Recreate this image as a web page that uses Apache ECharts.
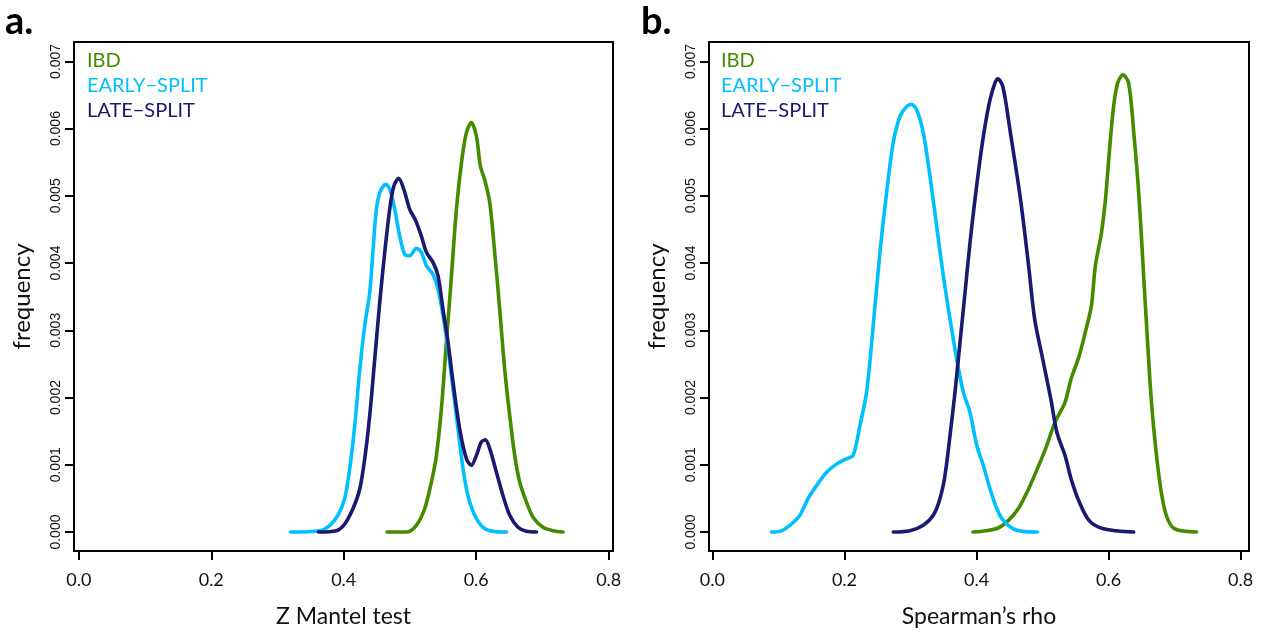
<!DOCTYPE html>
<html>
<head>
<meta charset="utf-8">
<script src="https://cdn.jsdelivr.net/npm/echarts@6/dist/echarts.min.js"></script>
<style>
html,body{margin:0;padding:0;background:#fff;}
#chart{width:1261px;height:633px;}
</style>
</head>
<body>
<div id="chart"></div>
<script>
// ---- data (x value, density) ----
const seriesNames = ['IBD', 'EARLY\u2212SPLIT', 'LATE\u2212SPLIT'];
const seriesColors = ['#458B00', '#00BFFF', '#191970'];

const xTicks = [0, 0.2, 0.4, 0.6, 0.8];
const yTicks = [0, 0.001, 0.002, 0.003, 0.004, 0.005, 0.006, 0.007];

// Panel a: Z Mantel test
const mantelIBD = [[0.4654,0],[0.4946,0],[0.5097,0.0001],[0.5223,0.00035],[0.5323,0.00074],[0.5399,0.00114],[0.5474,0.00183],[0.555,0.00282],[0.5626,0.00381],[0.5701,0.0048],[0.5777,0.00549],[0.5852,0.00594],[0.5927,0.00609],[0.6003,0.00589],[0.6063,0.00544],[0.6128,0.00524],[0.6204,0.0049],[0.6279,0.00416],[0.6355,0.00331],[0.643,0.00242],[0.6506,0.00173],[0.6581,0.00114],[0.6657,0.00074],[0.6757,0.00045],[0.6858,0.00022],[0.7008,0.00007],[0.7159,0.00002],[0.731,0]];
const mantelEarly = [[0.32,0],[0.3638,0.00002],[0.3789,0.0001],[0.3914,0.00025],[0.4015,0.0005],[0.409,0.00094],[0.4166,0.00158],[0.4242,0.00242],[0.4317,0.00307],[0.4392,0.00356],[0.4443,0.0042],[0.4493,0.0048],[0.4553,0.00507],[0.4634,0.00517],[0.4694,0.0051],[0.477,0.0048],[0.4845,0.0044],[0.4921,0.00413],[0.4996,0.00411],[0.5097,0.00422],[0.5172,0.00416],[0.5248,0.00396],[0.5348,0.00383],[0.5424,0.00361],[0.5499,0.00322],[0.5575,0.00272],[0.565,0.00213],[0.5726,0.00153],[0.5801,0.00094],[0.5876,0.00054],[0.5977,0.00025],[0.6103,0.00007],[0.6254,0.00001],[0.6456,0]];
const mantelLate = [[0.362,0],[0.389,0.00002],[0.4015,0.00012],[0.414,0.00035],[0.4242,0.00064],[0.4317,0.00109],[0.4392,0.00173],[0.4468,0.00257],[0.4543,0.00341],[0.4619,0.00416],[0.4694,0.0048],[0.4755,0.00514],[0.483,0.00526],[0.4906,0.0051],[0.4996,0.0048],[0.5087,0.00463],[0.5172,0.0044],[0.5248,0.00416],[0.5348,0.00401],[0.5424,0.00381],[0.5499,0.00331],[0.5575,0.00282],[0.565,0.00223],[0.5751,0.00153],[0.5852,0.00109],[0.5927,0.00099],[0.6003,0.00114],[0.6078,0.00134],[0.6138,0.00137],[0.6204,0.00124],[0.6305,0.00089],[0.6405,0.00054],[0.6506,0.00025],[0.6631,0.00007],[0.6757,0.00001],[0.6909,0]];

// Panel b: Spearman's rho
const rhoIBD = [[0.3947,0],[0.4144,0.00002],[0.4326,0.00006],[0.448,0.00017],[0.4634,0.00035],[0.4788,0.00064],[0.4942,0.00099],[0.5065,0.00129],[0.5187,0.00163],[0.534,0.00193],[0.5433,0.00228],[0.5555,0.00262],[0.5647,0.00297],[0.5739,0.00336],[0.58,0.00396],[0.5892,0.00445],[0.5953,0.00495],[0.6015,0.00569],[0.6076,0.00633],[0.6138,0.00668],[0.6217,0.0068],[0.6303,0.00668],[0.6382,0.00594],[0.6463,0.00495],[0.6537,0.00371],[0.6567,0.00322],[0.6628,0.00223],[0.669,0.00148],[0.6783,0.00069],[0.6874,0.00025],[0.6996,0.00005],[0.7333,0]];
const rhoEarly = [[0.0895,0],[0.102,0.00001],[0.1172,0.0001],[0.1324,0.00025],[0.145,0.0005],[0.1577,0.00069],[0.1729,0.00089],[0.188,0.00101],[0.2032,0.00109],[0.2132,0.00114],[0.2233,0.00158],[0.2335,0.00208],[0.2435,0.00307],[0.2537,0.00416],[0.2638,0.00505],[0.2738,0.00579],[0.284,0.00618],[0.2942,0.00633],[0.3017,0.00636],[0.3093,0.00628],[0.3193,0.00594],[0.3295,0.00529],[0.3396,0.00455],[0.3497,0.00381],[0.3598,0.00317],[0.37,0.00257],[0.38,0.00208],[0.3901,0.00178],[0.4003,0.00129],[0.4103,0.00099],[0.4205,0.00064],[0.4306,0.00035],[0.44,0.00018],[0.455,0.00005],[0.47,0.00001],[0.492,0]];
const rhoLate = [[0.2739,0],[0.2992,0.00002],[0.3193,0.0001],[0.3345,0.00025],[0.3447,0.0005],[0.3522,0.00084],[0.3598,0.00143],[0.3674,0.00208],[0.375,0.00282],[0.3826,0.00356],[0.3901,0.0043],[0.3977,0.00495],[0.4053,0.00554],[0.4129,0.00604],[0.4205,0.00643],[0.428,0.00668],[0.4325,0.00674],[0.44,0.00662],[0.4513,0.00594],[0.4666,0.00495],[0.4789,0.00396],[0.488,0.00317],[0.5003,0.00257],[0.5125,0.00198],[0.5218,0.00148],[0.534,0.00114],[0.5433,0.00079],[0.5555,0.00045],[0.5706,0.00017],[0.5923,0.00005],[0.638,0]];

const panelLetters = ['a.', 'b.'];
const xTitles = ['Z Mantel test', 'Spearman\u2019s rho'];
const yTitle = 'frequency';

// ---- chart ----
const chart = echarts.init(document.getElementById('chart'), null, {renderer: 'canvas'});
const SANS = 'Liberation Sans, Arial, sans-serif';
const MYR = 'Lato, sans-serif';

const grids = [
  {left: 74, top: 42, width: 539, height: 510},
  {left: 709, top: 42, width: 540, height: 510}
];
const xRanges = [[-0.0072, 0.8065], [-0.0052, 0.8127]];

function makeX(i) {
  return {
    type: 'value', gridIndex: i, min: xRanges[i][0], max: xRanges[i][1],
    axisLine: {show: false, onZero: false}, splitLine: {show: false},
    axisTick: {show: true, length: 9, customValues: xTicks, lineStyle: {color: '#000', width: 2}},
    axisLabel: {customValues: xTicks, formatter: v => v.toFixed(1), fontFamily: MYR, fontSize: 18, color: '#111', margin: 20},
    name: xTitles[i], nameLocation: 'middle', nameGap: 54,
    nameTextStyle: {fontFamily: MYR, fontSize: 23, color: '#111'}
  };
}
function makeY(i) {
  return {
    type: 'value', gridIndex: i, min: -0.000282, max: 0.007288,
    axisLine: {show: false, onZero: false}, splitLine: {show: false},
    axisTick: {show: true, length: 9, customValues: yTicks, lineStyle: {color: '#000', width: 2}},
    axisLabel: {customValues: yTicks, formatter: v => v.toFixed(3), rotate: 90, fontFamily: SANS, fontSize: 14, color: '#111', margin: 11},
    name: yTitle, nameLocation: 'middle', nameRotate: 90, nameGap: 40,
    nameTextStyle: {fontFamily: MYR, fontSize: 24, color: '#111'}
  };
}
function line(name, color, data, i) {
  return {
    type: 'line', name: name, xAxisIndex: i, yAxisIndex: i, data: data,
    showSymbol: false, smooth: 0.3,
    lineStyle: {color: color, width: 3.6, cap: 'round', join: 'round'},
    itemStyle: {color: color}, silent: true
  };
}
function legend(i, left) {
  return {
    left: left, top: 46, orient: 'vertical', itemWidth: 0, itemHeight: 0, itemGap: 5,
    selectedMode: false,
    data: seriesNames.map((n, k) => ({name: n, textStyle: {color: seriesColors[k]}})),
    textStyle: {fontFamily: MYR, fontSize: 20, lineHeight: 20}
  };
}

const option = {
  backgroundColor: '#fff',
  animation: false,
  title: [
    {text: panelLetters[0], left: 0, top: -2, textStyle: {fontFamily: MYR, fontSize: 38, fontWeight: 'bold', color: '#000'}},
    {text: panelLetters[1], left: 636, top: -2, textStyle: {fontFamily: MYR, fontSize: 38, fontWeight: 'bold', color: '#000'}}
  ],
  legend: [legend(0, 76), legend(1, 710)],
  grid: grids.map(g => Object.assign({show: true, borderColor: '#000', borderWidth: 2, backgroundColor: 'transparent'}, g)),
  xAxis: [makeX(0), makeX(1)],
  yAxis: [makeY(0), makeY(1)],
  series: [
    line(seriesNames[0], seriesColors[0], mantelIBD, 0),
    line(seriesNames[1], seriesColors[1], mantelEarly, 0),
    line(seriesNames[2], seriesColors[2], mantelLate, 0),
    line(seriesNames[0], seriesColors[0], rhoIBD, 1),
    line(seriesNames[1], seriesColors[1], rhoEarly, 1),
    line(seriesNames[2], seriesColors[2], rhoLate, 1)
  ]
};
chart.setOption(option);
</script>
</body>
</html>
